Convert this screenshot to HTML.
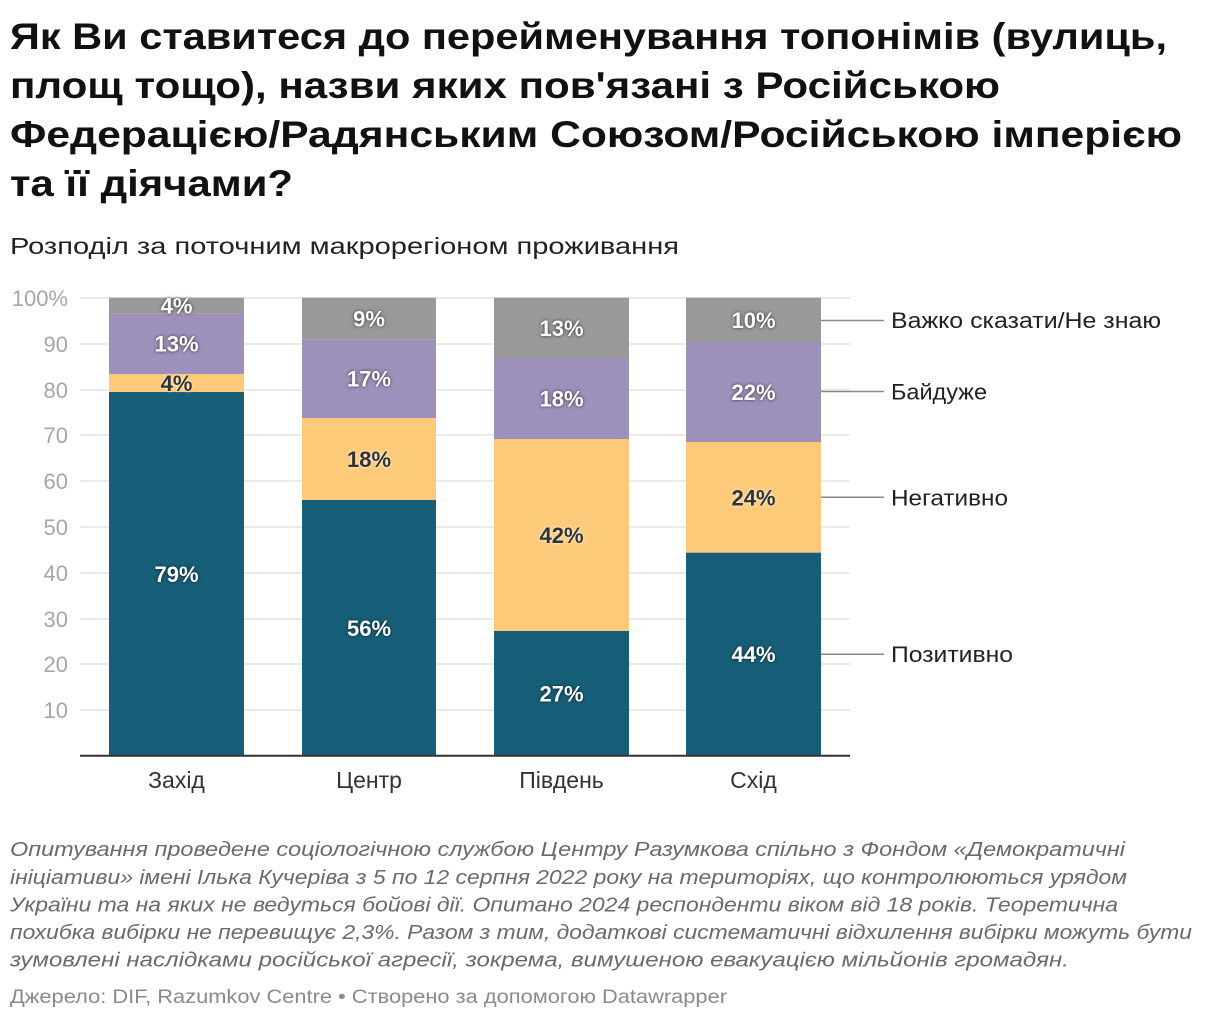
<!DOCTYPE html>
<html><head><meta charset="utf-8"><style>
html,body{margin:0;padding:0;background:#fff;}
svg{display:block;}
text{font-family:"Liberation Sans",sans-serif;}
.t{font-weight:bold;font-size:37px;fill:#111;}
.yl{font-size:22px;fill:#a6a6a6;text-anchor:end;}
.cl{font-size:23px;fill:#333;text-anchor:middle;}
.lw{font-size:22px;font-weight:bold;fill:#fff;text-anchor:middle;text-shadow:0 0 3px rgba(0,0,0,.7);}
.ld{font-size:22px;font-weight:bold;fill:#333;text-anchor:middle;text-shadow:0 0 3px #fff;}
.lg{font-size:22px;fill:#222;}
.fn{font-size:20.5px;font-style:italic;fill:#6a6a6a;}
</style></head><body>
<svg width="1220" height="1020" viewBox="0 0 1220 1020" xmlns="http://www.w3.org/2000/svg">
<rect width="1220" height="1020" fill="#fff"/>
<text class="t" x="10" y="49" textLength="1157" lengthAdjust="spacingAndGlyphs">Як Ви ставитеся до перейменування топонімів (вулиць,</text>
<text class="t" x="10" y="98" textLength="990" lengthAdjust="spacingAndGlyphs">площ тощо), назви яких пов'язані з Російською</text>
<text class="t" x="10" y="147" textLength="1172" lengthAdjust="spacingAndGlyphs">Федерацією/Радянським Союзом/Російською імперією</text>
<text class="t" x="10" y="196" textLength="283" lengthAdjust="spacingAndGlyphs">та її діячами?</text>
<text x="10" y="254" font-size="23.5" fill="#222" textLength="669" lengthAdjust="spacingAndGlyphs">Розподіл за поточним макрорегіоном проживання</text>

<g stroke="#e3e3e3" stroke-width="1.5">
<line x1="80" x2="850" y1="298" y2="298"/>
<line x1="80" x2="850" y1="344" y2="344"/>
<line x1="80" x2="850" y1="390" y2="390"/>
<line x1="80" x2="850" y1="435" y2="435"/>
<line x1="80" x2="850" y1="481" y2="481"/>
<line x1="80" x2="850" y1="527" y2="527"/>
<line x1="80" x2="850" y1="573" y2="573"/>
<line x1="80" x2="850" y1="619" y2="619"/>
<line x1="80" x2="850" y1="664" y2="664"/>
<line x1="80" x2="850" y1="710" y2="710"/>
</g>
<text class="yl" x="68" y="306">100%</text>
<text class="yl" x="68" y="352">90</text>
<text class="yl" x="68" y="398">80</text>
<text class="yl" x="68" y="443">70</text>
<text class="yl" x="68" y="489">60</text>
<text class="yl" x="68" y="535">50</text>
<text class="yl" x="68" y="581">40</text>
<text class="yl" x="68" y="627">30</text>
<text class="yl" x="68" y="672">20</text>
<text class="yl" x="68" y="718">10</text>

<!-- Захід -->
<rect x="109" y="297.7" width="135" height="15.6" fill="#999999"/>
<rect x="109" y="313.3" width="135" height="60.7" fill="#9d90ba"/>
<rect x="109" y="374" width="135" height="18" fill="#fdca79"/>
<rect x="109" y="392" width="135" height="363.7" fill="#175f78"/>
<!-- Центр -->
<rect x="302" y="297.7" width="134" height="41.6" fill="#999999"/>
<rect x="302" y="339.3" width="134" height="78.7" fill="#9d90ba"/>
<rect x="302" y="418" width="134" height="82" fill="#fdca79"/>
<rect x="302" y="500" width="134" height="255.7" fill="#175f78"/>
<!-- Південь -->
<rect x="494" y="297.7" width="135" height="60.3" fill="#999999"/>
<rect x="494" y="358" width="135" height="81" fill="#9d90ba"/>
<rect x="494" y="439" width="135" height="192" fill="#fdca79"/>
<rect x="494" y="631" width="135" height="124.7" fill="#175f78"/>
<!-- Схід -->
<rect x="686" y="297.7" width="135" height="44.3" fill="#999999"/>
<rect x="686" y="342" width="135" height="100" fill="#9d90ba"/>
<rect x="686" y="442" width="135" height="110.7" fill="#fdca79"/>
<rect x="686" y="552.7" width="135" height="203" fill="#175f78"/>

<line x1="80" x2="850" y1="755.7" y2="755.7" stroke="#333" stroke-width="2"/>

<text class="lw" x="176.5" y="313.5">4%</text>
<text class="lw" x="176.5" y="351.6">13%</text>
<text class="ld" x="176.5" y="391">4%</text>
<text class="lw" x="176.5" y="581.8">79%</text>

<text class="lw" x="369" y="326.4">9%</text>
<text class="lw" x="369" y="386.6">17%</text>
<text class="ld" x="369" y="466.9">18%</text>
<text class="lw" x="369" y="635.8">56%</text>

<text class="lw" x="561.5" y="335.8">13%</text>
<text class="lw" x="561.5" y="406.4">18%</text>
<text class="ld" x="561.5" y="542.9">42%</text>
<text class="lw" x="561.5" y="701.3">27%</text>

<text class="lw" x="753.5" y="327.8">10%</text>
<text class="lw" x="753.5" y="399.9">22%</text>
<text class="ld" x="753.5" y="505.3">24%</text>
<text class="lw" x="753.5" y="662.1">44%</text>

<text class="cl" x="176.5" y="788">Захід</text>
<text class="cl" x="369" y="788">Центр</text>
<text class="cl" x="561.5" y="788">Південь</text>
<text class="cl" x="753.5" y="788">Схід</text>

<g stroke="#888" stroke-width="1.5">
<line x1="821" x2="884" y1="320.5" y2="320.5"/>
<line x1="821" x2="884" y1="391.5" y2="391.5"/>
<line x1="821" x2="884" y1="497.3" y2="497.3"/>
<line x1="821" x2="884" y1="654.2" y2="654.2"/>
</g>
<text class="lg" x="891" y="328" textLength="270" lengthAdjust="spacingAndGlyphs">Важко сказати/Не знаю</text>
<text class="lg" x="891" y="399.5" textLength="96" lengthAdjust="spacingAndGlyphs">Байдуже</text>
<text class="lg" x="891" y="505.3" textLength="117" lengthAdjust="spacingAndGlyphs">Негативно</text>
<text class="lg" x="891" y="662.2" textLength="122" lengthAdjust="spacingAndGlyphs">Позитивно</text>

<text class="fn" x="10" y="856" textLength="1115" lengthAdjust="spacingAndGlyphs">Опитування проведене соціологічною службою Центру Разумкова спільно з Фондом «Демократичні</text>
<text class="fn" x="10" y="884" textLength="1117" lengthAdjust="spacingAndGlyphs">ініціативи» імені Ілька Кучеріва з 5 по 12 серпня 2022 року на територіях, що контролюються урядом</text>
<text class="fn" x="10" y="911.5" textLength="1108" lengthAdjust="spacingAndGlyphs">України та на яких не ведуться бойові дії. Опитано 2024 респонденти віком від 18 років. Теоретична</text>
<text class="fn" x="10" y="939" textLength="1182" lengthAdjust="spacingAndGlyphs">похибка вибірки не перевищує 2,3%. Разом з тим, додаткові систематичні відхилення вибірки можуть бути</text>
<text class="fn" x="10" y="966.5" textLength="1059" lengthAdjust="spacingAndGlyphs">зумовлені наслідками російської агресії, зокрема, вимушеною евакуацією мільйонів громадян.</text>
<text x="10" y="1003" font-size="19" fill="#8a8a8a" textLength="717" lengthAdjust="spacingAndGlyphs">Джерело: DIF, Razumkov Centre • Створено за допомогою Datawrapper</text>
</svg>
</body></html>
